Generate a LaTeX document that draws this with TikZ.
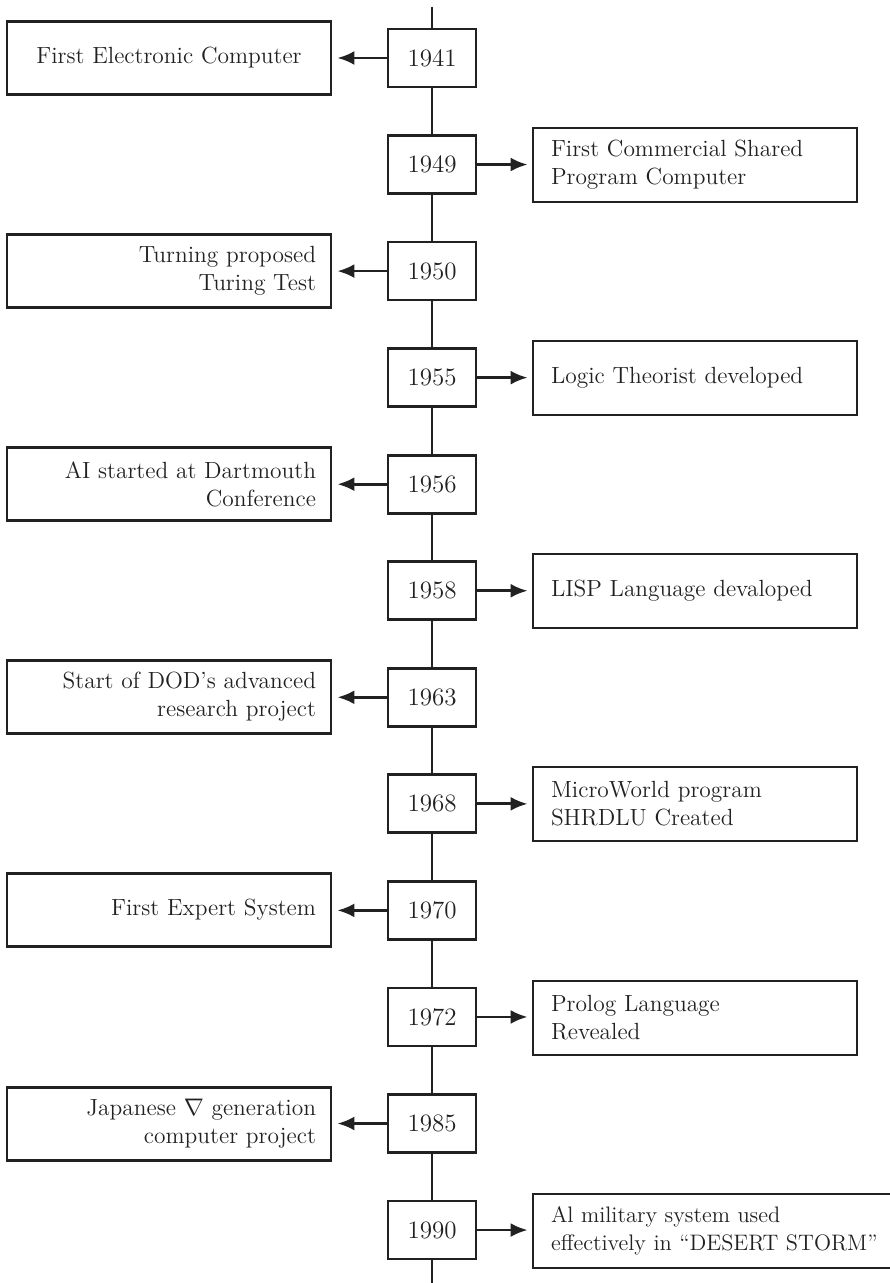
\documentclass[tikz,border=0pt]{standalone}
\usepackage{fontspec}
\usetikzlibrary{arrows.meta}
\definecolor{ink}{gray}{0.13}
\begin{document}
\begin{tikzpicture}[x=0.5pt,y=-0.5pt,
  font=\fontsize{11.7}{14}\selectfont,
  every node/.style={draw=ink,line width=1.4pt,text=ink},
  year/.style={minimum width=44pt,minimum height=29pt,inner sep=0pt,font=\fontsize{12.5}{14}\selectfont},
  leftev/.style={minimum width=162pt,minimum height=36.5pt,text width=147pt,inner xsep=7.5pt,inner ysep=0pt,align=right},
  rightev/.style={minimum width=162pt,minimum height=37pt,text width=144pt,inner xsep=9pt,inner ysep=0pt,align=left},
  spine/.style={draw=ink,line width=1.4pt},
  link/.style={draw=ink,line width=1.4pt,-{Latex[length=8.5pt,width=7pt]}}]
\useasboundingbox (0,0) rectangle (889,1283);

% years on the spine
\foreach \yr [count=\i from 0] in {1941,1949,1950,1955,1956,1958,1963,1968,1970,1972,1985,1990}
  \node[year] (y\yr) at (432,{58+106.55*\i}) {\yr};

% spine ends
\coordinate (top) at (432,7);
\coordinate (bottom) at (432,1290);

% events to the left
\node[leftev,align=center] (e1941) at (169,58) {First Electronic Computer};
\node[leftev] (e1950) at (169,271) {Turning proposed\\Turing Test};
\node[leftev] (e1956) at (169,484) {AI started at Dartmouth\\Conference};
\node[leftev] (e1963) at (169,697) {Start of DOD’s advanced\\research project};
\node[leftev] (e1970) at (169,910) {First Expert System};
\node[leftev] (e1985) at (169,1124) {Japanese $\nabla$ generation\\computer project};

% events to the right
\node[rightev] (e1949) at (695,165) {First Commercial Shared\\Program Computer};
\node[rightev] (e1955) at (695,378) {Logic Theorist developed};
\node[rightev] (e1958) at (695,591) {LISP Language devaloped};
\node[rightev] (e1968) at (695,804) {MicroWorld program\\SHRDLU Created};
\node[rightev] (e1972) at (695,1018) {Prolog Language\\Revealed};
\node[rightev,minimum width=190pt,text width=172pt,font=\fontsize{11.2}{14}\selectfont] (e1990) at (723,1231) {Al military system used\\effectively in ``DESERT STORM''};

% spine segments
\draw[spine] (top) -- (y1941);
\draw[spine] (y1941) -- (y1949) -- (y1950) -- (y1955) -- (y1956) -- (y1958)
  -- (y1963) -- (y1968) -- (y1970) -- (y1972) -- (y1985) -- (y1990);
\draw[spine] (y1990) -- (bottom);

% arrows from years to events
\foreach \yr in {1941,1950,1956,1963,1970,1985}
  \draw[link,shorten >=2.5pt] (y\yr.west) -- (y\yr.west -| e\yr.east);
\foreach \yr in {1949,1955,1958,1968,1972,1990}
  \draw[link,shorten >=2pt] (y\yr.east) -- (y\yr.east -| e\yr.west);
\end{tikzpicture}
\end{document}
